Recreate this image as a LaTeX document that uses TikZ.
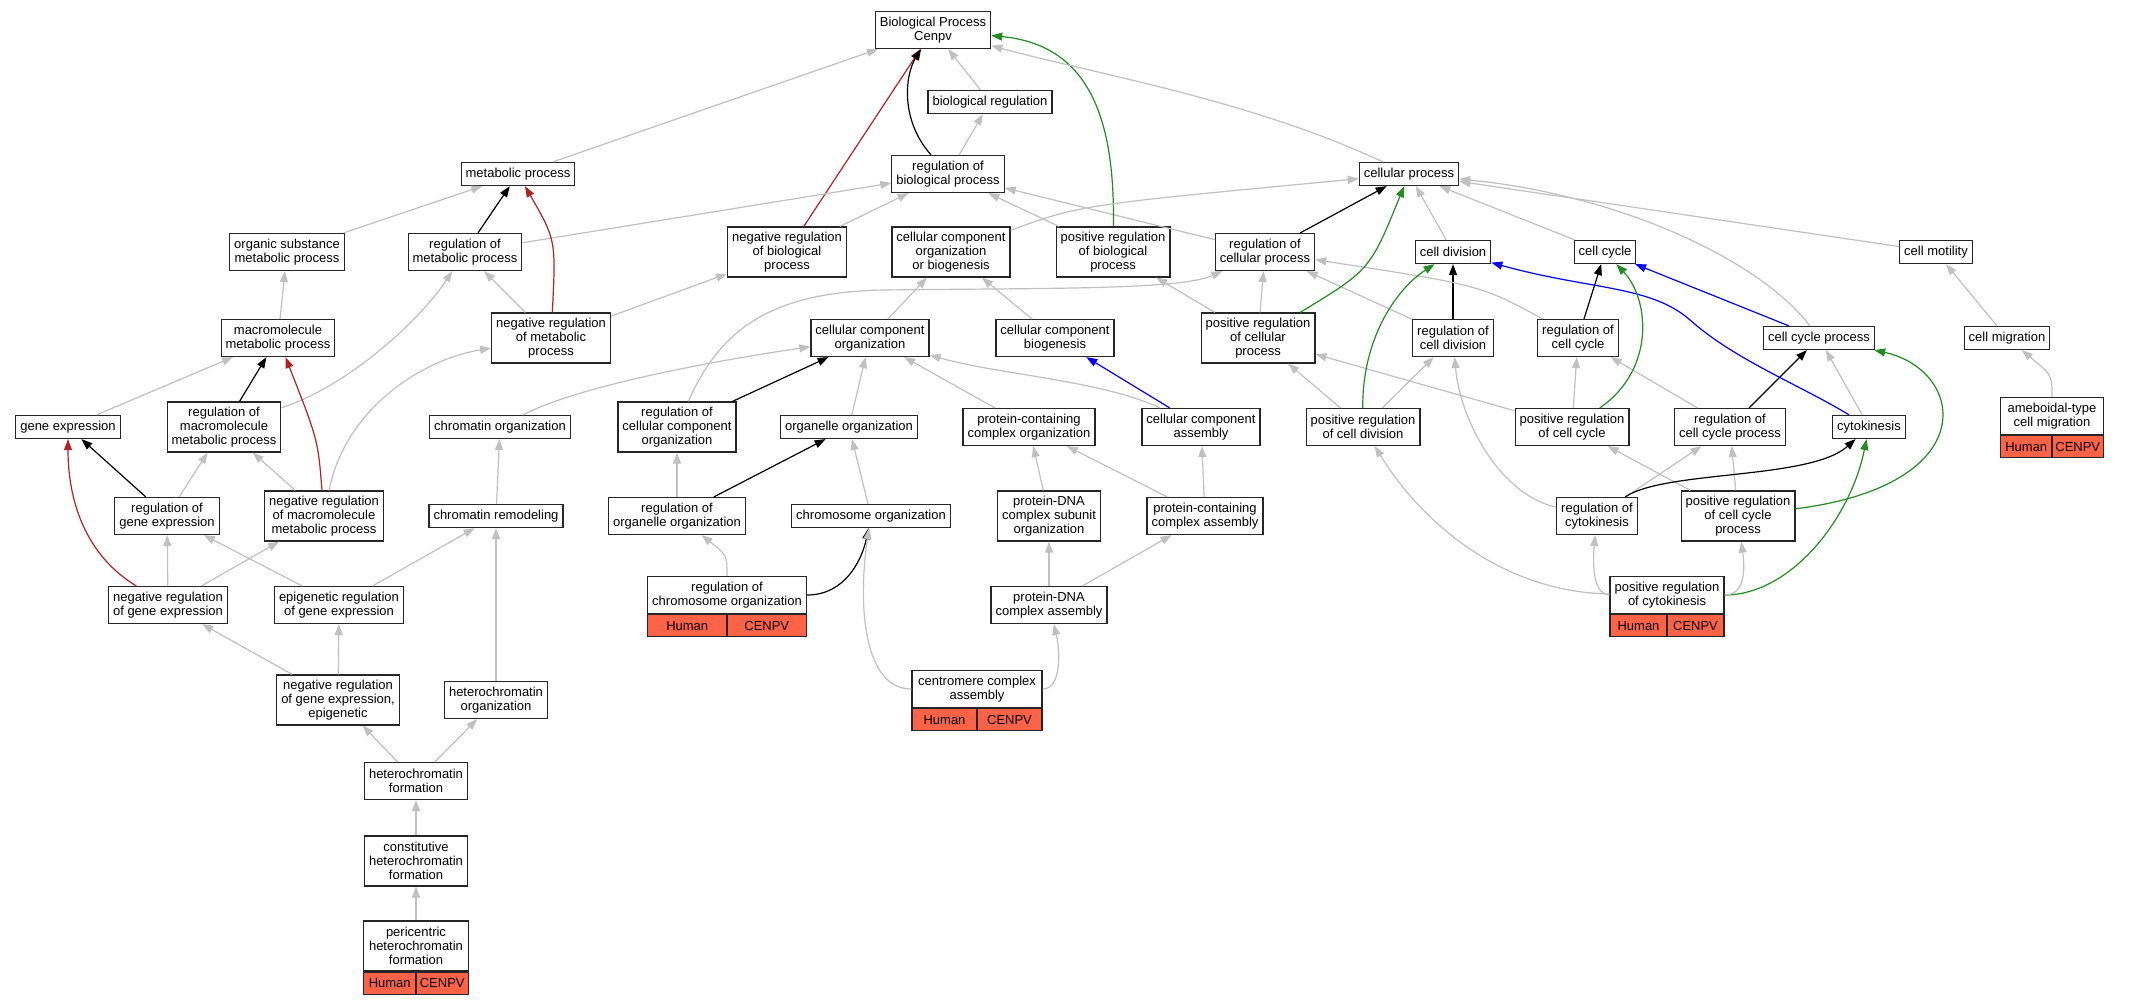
\documentclass[tikz,border=0pt]{standalone}
\usepackage{fontspec}
\setmainfont{Liberation Sans}
\usepackage{tikz}
\usetikzlibrary{
    arrows.meta,
    positioning
}
\definecolor{isagray}{RGB}{192,192,192}
\definecolor{negred}{RGB}{178,34,34}
\definecolor{posgreen}{RGB}{34,139,34}
\definecolor{partblue}{RGB}{0,0,255}
\definecolor{cellred}{RGB}{255,99,71}

\begin{document}
\begin{tikzpicture}[x=1pt, y=-1pt,
    term/.style={draw=black!85, line width=1.2pt, fill=white, rectangle, align=center, inner xsep=4.5pt, inner ysep=1pt, font=\fontsize{13}{14}\selectfont},
    one/.style={term, minimum height=23pt},
    two/.style={term, minimum height=37pt},
    three/.style={term, minimum height=50pt},
    cell/.style={term, fill=cellred, minimum height=22pt, inner xsep=1pt},
    isa/.style={draw=isagray, line width=1.2pt, -{Triangle[length=11pt,width=8pt]}},
    reg/.style={isa, draw=black},
    negreg/.style={isa, draw=negred},
    posreg/.style={isa, draw=posgreen},
    partof/.style={isa, draw=partblue}]
                        \useasboundingbox[fill=white] (0,0) rectangle (2131,1003);

                        \node[two] (bp) at (933,30) {Biological Process\\Cenpv};
                        \node[one] (breg) at (990,102) {biological regulation};
                        \node[one] (mp) at (518,174) {metabolic process};
                        \node[two] (rbp) at (948,174) {regulation of\\biological process};
                        \node[one] (cp) at (1409,174) {cellular process};
                        \node[two] (osmp) at (287,252) {organic substance\\metabolic process};
                        \node[two] (rmp) at (465,252) {regulation of\\metabolic process};
                        \node[three] (nrbp) at (787,252) {negative regulation\\of biological\\process};
                        \node[three] (ccob) at (951,252) {cellular component\\organization\\or biogenesis};
                        \node[three] (pbp) at (1113,252) {positive regulation\\of biological\\process};
                        \node[two] (rcp) at (1265,252) {regulation of\\cellular process};
                        \node[one] (cdiv) at (1453,252) {cell division};
                        \node[one] (ccyc) at (1605,252) {cell cycle};
                        \node[one] (cmot) at (1936,252) {cell motility};
                        \node[two] (mmp) at (278,338) {macromolecule\\metabolic process};
                        \node[three] (nrmp) at (551,338) {negative regulation\\of metabolic\\process};
                        \node[two] (cco) at (870,338) {cellular component\\organization};
                        \node[two] (ccb) at (1055,338) {cellular component\\biogenesis};
                        \node[three] (prcp) at (1258,338) {positive regulation\\of cellular\\process};
                        \node[two] (rcd) at (1453,338) {regulation of\\cell division};
                        \node[two] (rcc) at (1578,338) {regulation of\\cell cycle};
                        \node[one] (ccp) at (1819,338) {cell cycle process};
                        \node[one] (cmig) at (2007,338) {cell migration};
                        \node[one] (ge) at (68,427) {gene expression};
                        \node[three] (rmmp) at (224,427) {regulation of\\macromolecule\\metabolic process};
                        \node[one] (chrorg) at (500,427) {chromatin organization};
                        \node[three] (rcco) at (677,427) {regulation of\\cellular component\\organization};
                        \node[one] (orgo) at (849,427) {organelle organization};
                        \node[two] (pcco) at (1029,427) {protein-containing\\complex organization};
                        \node[two] (cca) at (1201,427) {cellular component\\assembly};
                        \node[two] (prcd) at (1363,427) {positive regulation\\of cell division};
                        \node[two] (prcc) at (1572,427) {positive regulation\\of cell cycle};
                        \node[two] (rccp) at (1730,427) {regulation of\\cell cycle process};
                        \node[one] (cyt) at (1869,427) {cytokinesis};
                        \node[two, minimum width=103pt] (amig) at (2052,416) {ameboidal-type\\cell migration};
                        \node[cell, minimum width=51.5pt, anchor=north west] (amigH) at (amig.south west) {Human};
                        \node[cell, minimum width=51.5pt, anchor=north east] (amigC) at (amig.south east) {CENPV};
                        \node[two] (rge) at (167,516) {regulation of\\gene expression};
                        \node[three] (nrmmp) at (324,516) {negative regulation\\of macromolecule\\metabolic process};
                        \node[one] (chrrem) at (496,516) {chromatin remodeling};
                        \node[two] (rorgo) at (677,516) {regulation of\\organelle organization};
                        \node[one] (chrmo) at (871,516) {chromosome organization};
                        \node[three] (pdso) at (1049,516) {protein-DNA\\complex subunit\\organization};
                        \node[two] (pcca) at (1205,516) {protein-containing\\complex assembly};
                        \node[two] (rcyt) at (1597,516) {regulation of\\cytokinesis};
                        \node[three] (prccp) at (1738,516) {positive regulation\\of cell cycle\\process};
                        \node[two] (nrge) at (168,605) {negative regulation\\of gene expression};
                        \node[two] (erge) at (339,605) {epigenetic regulation\\of gene expression};
                        \node[two, minimum width=159pt] (rchrmo) at (727,595) {regulation of\\chromosome organization};
                        \node[cell, minimum width=79.5pt, anchor=north west] (rchrmoH) at (rchrmo.south west) {Human};
                        \node[cell, minimum width=79.5pt, anchor=north east] (rchrmoC) at (rchrmo.south east) {CENPV};
                        \node[two] (pdca) at (1049,605) {protein-DNA\\complex assembly};
                        \node[two, minimum width=114pt] (pcyt) at (1667,595) {positive regulation\\of cytokinesis};
                        \node[cell, minimum width=57pt, anchor=north west] (pcytH) at (pcyt.south west) {Human};
                        \node[cell, minimum width=57pt, anchor=north east] (pcytC) at (pcyt.south east) {CENPV};
                        \node[three] (nrgee) at (338,700) {negative regulation\\of gene expression,\\epigenetic};
                        \node[two] (heto) at (496,700) {heterochromatin\\organization};
                        \node[two, minimum width=130pt] (ccasm) at (977,689) {centromere complex\\assembly};
                        \node[cell, minimum width=65pt, anchor=north west] (ccasmH) at (ccasm.south west) {Human};
                        \node[cell, minimum width=65pt, anchor=north east] (ccasmC) at (ccasm.south east) {CENPV};
                        \node[two] (hetf) at (416,781) {heterochromatin\\formation};
                        \node[three] (chetf) at (416,861) {constitutive\\heterochromatin\\formation};
                        \node[three, minimum width=105pt] (phetf) at (416,946) {pericentric\\heterochromatin\\formation};
                        \node[cell, minimum width=52.5pt, anchor=north west] (phetfH) at (phetf.south west) {Human};
                        \node[cell, minimum width=52.5pt, anchor=north east] (phetfC) at (phetf.south east) {CENPV};

                        \draw
                        (mp) edge[isa] (bp)
                        (breg) edge[isa] (bp)
                        (nrbp) edge[negreg] (bp)
                        (rbp) edge[isa] (breg)
                        (osmp) edge[isa] (mp)
                        (rmp) edge[reg] (mp)
                        (rmp) edge[isa] (rbp)
                        (nrbp) edge[isa] (rbp)
                        (pbp) edge[isa] (rbp)
                        (rcp) edge[isa] (rbp)
                        (rcp) edge[reg] (cp)
                        (cdiv) edge[isa] (cp)
                        (ccyc) edge[isa] (cp)
                        (cmot) edge[isa] (cp)
                        (mmp) edge[isa] (osmp)
                        (nrmp) edge[isa] (rmp)
                        (nrmp) edge[isa] (nrbp)
                        (cco) edge[isa] (ccob)
                        (ccb) edge[isa] (ccob)
                        (prcp) edge[isa] (pbp)
                        (prcp) edge[isa] (rcp)
                        (rcd) edge[isa] (rcp)
                        (rcd) edge[reg] (cdiv)
                        (rcc) edge[reg] (ccyc)
                        (ccp) edge[partof] (ccyc)
                        (cmig) edge[isa] (cmot)
                        (ge) edge[isa] (mmp)
                        (rmmp) edge[reg] (mmp)
                        (rcco) edge[reg] (cco)
                        (orgo) edge[isa] (cco)
                        (pcco) edge[isa] (cco)
                        (cca) edge[partof] (ccb)
                        (prcd) edge[isa] (prcp)
                        (prcd) edge[isa] (rcd)
                        (prcc) edge[isa] (prcp)
                        (prcc) edge[isa] (rcc)
                        (rccp) edge[reg] (ccp)
                        (rccp) edge[isa] (rcc)
                        (cyt) edge[isa] (ccp)
                        (rge) edge[reg] (ge)
                        (rge) edge[isa] (rmmp)
                        (nrmmp) edge[isa] (rmmp)
                        (chrrem) edge[isa] (chrorg)
                        (rorgo) edge[isa] (rcco)
                        (rorgo) edge[reg] (orgo)
                        (chrmo) edge[isa] (orgo)
                        (pdso) edge[isa] (pcco)
                        (pcca) edge[isa] (pcco)
                        (pcca) edge[isa] (cca)
                        (rcyt) edge[isa] (rccp)
                        (prccp) edge[isa] (rccp)
                        (prccp) edge[isa] (prcc)
                        (nrge) edge[isa] (rge)
                        (nrge) edge[isa] (nrmmp)
                        (erge) edge[isa] (rge)
                        (erge) edge[isa] (chrrem)
                        (pdca) edge[isa] (pdso)
                        (pdca) edge[isa] (pcca)
                        (nrgee) edge[isa] (nrge)
                        (nrgee) edge[isa] (erge)
                        (heto) edge[isa] (chrrem)
                        (hetf) edge[isa] (nrgee)
                        (hetf) edge[isa] (heto)
                        (chetf) edge[isa] (hetf)
                        (phetf) edge[isa] (chetf);

                        \draw[reg] (rbp) .. controls (900,120) and (905,75) .. (bp);
                        \draw[posreg] (pbp) .. controls (1115,120) and (1090,45) .. (bp);
                        \draw[isa] (cp) .. controls (1250,100) and (1100,75) .. (bp);
                        \draw[isa] (ccob) .. controls (1080,205) .. (cp);
                        \draw[isa] (rmmp) .. controls (350,385) and (420,320) .. (rmp);
                        \draw[isa] (nrmmp) .. controls (345,410) and (420,360) .. (nrmp);
                        \draw[negreg] (nrmmp) .. controls (318,440) .. (mmp);
                        \draw[negreg] (nrmp) .. controls (556,240) .. (mp);
                        \draw[negreg] (nrge) .. controls (85,555) and (68,500) .. (ge);
                        \draw[isa] (rcco) .. controls (720,330) and (770,292) .. (884,290) .. controls (1050,288) and (1180,290) .. (rcp);
                        \draw[isa] (cca) .. controls (1100,380) and (1000,375) .. (cco);
                        \draw[isa] (chrorg) .. controls (580,385) and (720,360) .. (cco);
                        \draw[isa] (rchrmo) .. controls (727,555) .. (rorgo);
                        \draw[reg] (rchrmo) .. controls (845,595) and (862,560) .. (chrmo);
                        \draw[isa] (ccasm) .. controls (862,689) and (858,600) .. (chrmo);
                        \draw[isa] (ccasm) .. controls (1062,689) and (1060,650) .. (pdca);
                        \draw[isa] (amig) .. controls (2052,375) .. (cmig);
                        \draw[isa] (ccp) .. controls (1760,260) and (1620,195) .. (cp);
                        \draw[isa] (rcc) .. controls (1480,285) .. (rcp);
                        \draw[partof] (cyt) .. controls (1800,385) and (1735,360) .. (1690,320) .. controls (1650,285) and (1590,290) .. (cdiv);
                        \draw[posreg] (prcc) .. controls (1655,370) and (1650,300) .. (ccyc);
                        \draw[posreg] (prcd) .. controls (1362,340) and (1395,290) .. (cdiv);
                        \draw[posreg] (prcp) .. controls (1370,270) .. (cp);
                        \draw[posreg] (prccp) .. controls (1985,485) and (1965,370) .. (ccp);
                        \draw[posreg] (pcyt) .. controls (1790,595) and (1850,520) .. (cyt);
                        \draw[reg] (rcyt) .. controls (1665,470) and (1810,480) .. (cyt);
                        \draw[isa] (rcyt) .. controls (1500,495) and (1460,420) .. (rcd);
                        \draw[isa] (pcyt) .. controls (1595,595) and (1592,570) .. (rcyt);
                        \draw[isa] (pcyt) .. controls (1745,595) and (1745,570) .. (prccp);
                        \draw[isa] (pcyt) .. controls (1500,592) and (1420,520) .. (prcd);
                    \end{tikzpicture}
\end{document}
